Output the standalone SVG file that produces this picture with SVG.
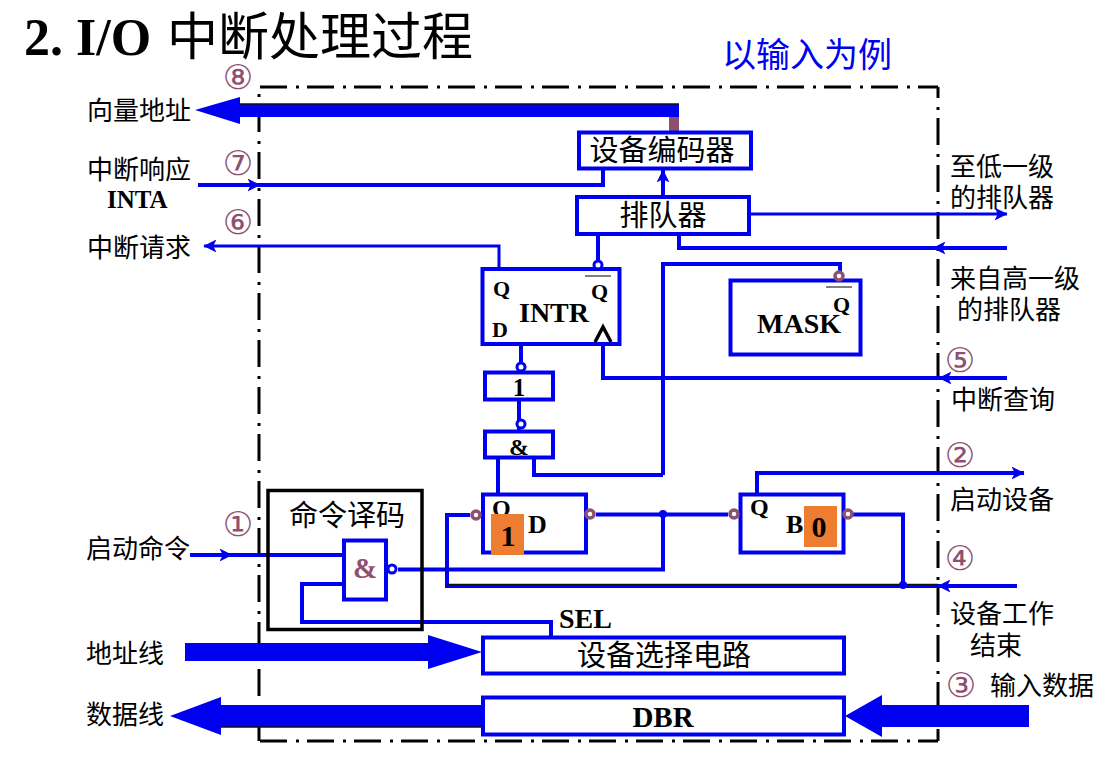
<svg xmlns="http://www.w3.org/2000/svg" width="1116" height="763" viewBox="0 0 1116 763">
<style>
text{font-family:"Liberation Serif","Noto Sans CJK SC",serif;fill:#000}
.cn{font-family:"Noto Sans CJK SC",sans-serif;font-size:26px}
.cb{font-family:"Noto Sans CJK SC",sans-serif;font-size:29px}
.b{font-weight:bold;font-family:"Liberation Serif",serif}
.box{fill:#fff;stroke:#0000f0;stroke-width:4}
.w{fill:none;stroke:#0000f0;stroke-width:4}
.t{fill:none;stroke:#0000f0;stroke-width:3}
.fill{fill:#0000f0}
.o{fill:#fff;stroke:#0000f0;stroke-width:3}
.p{fill:#fff;stroke:#8e5070;stroke-width:3.5}
.n{fill:#8e5070;font-size:34px;font-family:"DejaVu Sans",sans-serif}
.dash{fill:none;stroke:#000;stroke-width:3;stroke-dasharray:27 9 3 8}
.edge{stroke:#111;stroke-width:1.5;fill:none}
</style>
<defs>
<marker id="a" viewBox="0 0 12 12" refX="11.5" refY="6" markerWidth="13" markerHeight="13" markerUnits="userSpaceOnUse" orient="auto"><path d="M0 0L12 6L0 12L3 6Z" fill="#0000f0"/></marker>
</defs>
<rect width="1116" height="763" fill="#fff"/>
<text x="24" y="55" class="b" font-size="52">2. I/O</text>
<text x="167" y="55" font-size="51" style="font-family:'Noto Sans CJK SC',sans-serif">中断处理过程</text>
<text x="722" y="67" font-size="34" style="font-family:'Noto Sans CJK SC',sans-serif;fill:#0000f0">以输入为例</text>
<g id="frame">
<path d="M260 87H938" class="dash"/>
<path d="M260 741H938" class="dash"/>
<path d="M938 87V741" class="dash" stroke-dashoffset="16"/>
<path d="M259 93V741" class="dash" style="stroke-dashoffset:35"/>
</g>
<g id="connectors">
<path d="M198 185H603V167" class="w"/>
<path d="M198 185H260" class="w" marker-end="url(#a)"/>
<path d="M499 268V246H204" class="t" marker-end="url(#a)"/>
<path d="M663 197V170" class="w" marker-end="url(#a)"/>
<path d="M749 214H1007" class="t" marker-end="url(#a)"/>
<path d="M679 234V248H1007" class="w"/><path d="M1007 248H933" class="t" marker-end="url(#a)"/>
<path d="M598 235V262" class="w"/>
<path d="M663 475V264H840V272" class="w"/>
<path d="M603 343V378H1007" class="w"/><path d="M1007 378H939" class="t" marker-end="url(#a)"/>
<path d="M521 345V364" class="w"/><path d="M519 400V431" class="w"/>
<path d="M498 458V494" class="w"/>
<path d="M534 458V475H663" class="w"/>
<path d="M596 514.5H728" class="w"/>
<path d="M470 515H447V586H1017" class="w"/><path d="M1017 586H938" class="t" marker-end="url(#a)"/>
<path d="M447 584.500H938" class="edge"/>
<path d="M398 569.500H663V514" class="w"/>
<path d="M853 514.500H903V586" class="w"/>
<circle cx="663" cy="514" r="4" class="fill"/><circle cx="903" cy="585" r="4" class="fill"/>
<path d="M757 494V473H1024" class="w" marker-end="url(#a)"/>
<path d="M190 555H343" class="w"/><path d="M190 555H232" class="w" marker-end="url(#a)"/>
<path d="M343 584H302V622H551V636" class="w"/>
<rect x="669" y="110" width="10" height="21" fill="#8e5070"/>
<path d="M679 104H240V97L195 110L240 124V117H679Z" class="fill"/>
<path d="M679 104H240" class="edge"/>
<path d="M185 643H428V635L482 652L428 669V661H185Z" class="fill"/>
<path d="M482 705H221V697L170 716L221 735V727H482Z" class="fill"/>
<path d="M482 727H221" class="edge"/>
<path d="M1029 705H882V695L845 716L882 737V727H1029Z" class="fill"/>
</g>
<g id="encoder"><rect x="579" y="132.500" width="172" height="36" class="box"/><text x="662" y="161" text-anchor="middle" class="cb">设备编码器</text></g>
<g id="queue"><rect x="577" y="197" width="172" height="37" class="box"/><text x="663" y="226" text-anchor="middle" class="cb">排队器</text></g>
<g id="intr"><rect x="482.500" y="269" width="137" height="75" class="box"/>
<circle cx="598" cy="265" r="4" class="o"/>
<text x="493" y="296" class="b" font-size="22">Q</text><text x="492" y="337" class="b" font-size="22">D</text>
<text x="519" y="322" class="b" font-size="28">INTR</text>
<text x="591" y="299" class="b" font-size="22">Q</text><path d="M585 276H611" stroke="#555" stroke-width="1.5"/>
<path d="M595 342L603 327L611 342" fill="none" stroke="#000" stroke-width="3.500"/></g>
<g id="mask"><rect x="730.500" y="280.500" width="130" height="74" class="box"/>
<circle cx="839" cy="276" r="4" class="p"/>
<text x="757" y="333" class="b" font-size="28">MASK</text>
<text x="833" y="312" class="b" font-size="22">Q</text><path d="M826 287H852" stroke="#555" stroke-width="1.5"/></g>
<g id="or"><rect x="485" y="372.500" width="68" height="27" class="box"/><circle cx="521" cy="367" r="4" class="o"/><text x="519" y="396" text-anchor="middle" class="b" font-size="25">1</text></g>
<g id="and"><rect x="485" y="431.500" width="68" height="26" class="box"/><circle cx="521" cy="424" r="4" class="o"/><text x="519" y="455" text-anchor="middle" class="b" font-size="24">&amp;</text></g>
<g id="d"><rect x="483" y="494.500" width="103" height="58" class="box"/>
<circle cx="476" cy="515" r="4" class="p"/><circle cx="590" cy="514" r="4" class="p"/>
<text x="492" y="516" class="b" font-size="24">Q</text>
<rect x="491" y="514" width="33" height="41" fill="#ed7d31"/>
<text x="508" y="546" text-anchor="middle" class="b" font-size="30">1</text>
<text x="528" y="533" class="b" font-size="26">D</text></g>
<g id="b"><rect x="740.500" y="494.500" width="103" height="58" class="box"/>
<circle cx="734" cy="514" r="4" class="p"/><circle cx="848" cy="514" r="4" class="p"/>
<text x="750" y="515" class="b" font-size="24">Q</text><text x="786" y="533" class="b" font-size="26">B</text>
<rect x="804" y="506" width="33" height="41" fill="#ed7d31"/><text x="819" y="537" text-anchor="middle" class="b" font-size="30">0</text></g>
<g id="decoder"><rect x="268" y="490.500" width="154" height="139" fill="none" stroke="#000" stroke-width="3.500"/>
<text x="347" y="526" text-anchor="middle" class="cb">命令译码</text>
<rect x="344" y="540.500" width="42" height="59" class="box"/><text x="365" y="578" text-anchor="middle" class="b" font-size="29" style="fill:#8e5070">&amp;</text>
<circle cx="392" cy="569" r="4" class="o"/></g>
<g id="sel"><rect x="483" y="637.500" width="361" height="36" class="box"/><text x="664" y="666" text-anchor="middle" class="cb">设备选择电路</text></g>
<g id="dbr"><rect x="483" y="697.500" width="361" height="37" class="box"/><text x="663" y="727" text-anchor="middle" class="b" font-size="29">DBR</text></g>
<g id="labels">
<text x="559" y="628" class="b" font-size="28">SEL</text>
<text x="87" y="120" class="cn">向量地址</text>
<text x="87" y="179" class="cn">中断响应</text>
<text x="107" y="208" class="b" font-size="25">INTA</text>
<text x="87" y="257" class="cn">中断请求</text>
<text x="86" y="558" class="cn">启动命令</text>
<text x="86" y="663" class="cn">地址线</text>
<text x="86" y="724" class="cn">数据线</text>
<text x="950" y="176" class="cn">至低一级</text>
<text x="950" y="207" class="cn">的排队器</text>
<text x="950" y="288" class="cn">来自高一级</text>
<text x="957" y="319" class="cn">的排队器</text>
<text x="951" y="409" class="cn">中断查询</text>
<text x="950" y="509" class="cn">启动设备</text>
<text x="950" y="623" class="cn">设备工作</text>
<text x="970" y="655" class="cn">结束</text>
<text x="990" y="695" class="cn">输入数据</text>
<text x="238" y="89" text-anchor="middle" class="n">⑧</text>
<text x="238" y="175" text-anchor="middle" class="n">⑦</text>
<text x="238" y="234" text-anchor="middle" class="n">⑥</text>
<text x="238" y="536" text-anchor="middle" class="n">①</text>
<text x="960" y="467" text-anchor="middle" class="n">②</text>
<text x="960" y="570" text-anchor="middle" class="n">④</text>
<text x="960" y="372" text-anchor="middle" class="n">⑤</text>
<text x="961" y="697" text-anchor="middle" class="n">③</text>
</g>
</svg>
